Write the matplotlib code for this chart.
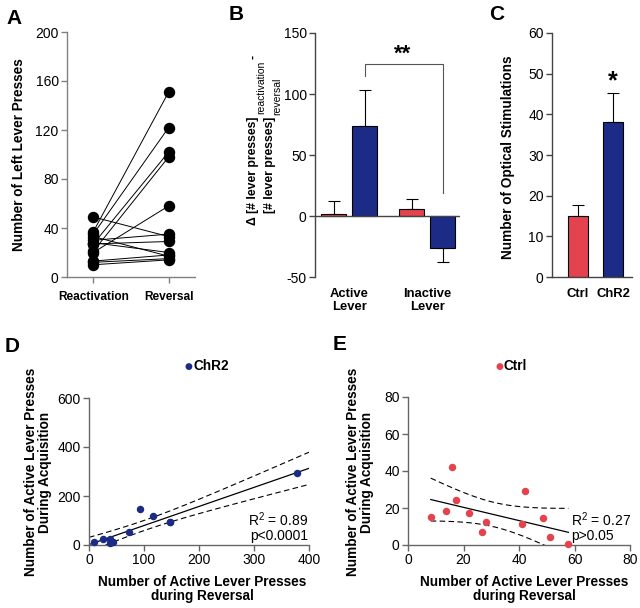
import numpy as np
import matplotlib
matplotlib.use("Agg")
import matplotlib.pyplot as plt

plt.rcParams['font.family'] = ['Liberation Sans', 'DejaVu Sans']
plt.rcParams['mathtext.fontset'] = 'custom'
plt.rcParams['mathtext.rm'] = 'Liberation Sans'
plt.rcParams['mathtext.bf'] = 'Liberation Sans:bold'
plt.rcParams['mathtext.it'] = 'Liberation Sans:italic'
plt.rcParams['axes.unicode_minus'] = False

RED = '#E5424F'
BLUE = '#1C2B85'
SPINE = '#666666'

# ---------------- Data ----------------
# Panel A: paired values
a_categories = ['Reactivation', 'Reversal']
a_reactivation = [49, 37, 35, 27, 21, 20, 30, 27, 28, 33, 13, 12, 10]
a_reversal = [33, 151, 122, 102, 98, 58, 35, 29, 20, 17, 18, 15, 14]

# Panel B: delta bars
b_groups = ['Active\nLever', 'Inactive\nLever']
b_ctrl = [2, 6]
b_ctrl_err = [10, 8]
b_chr2 = [74, -26]
b_chr2_err = [29, 12]

# Panel C
c_groups = ['Ctrl', 'ChR2']
c_values = [15, 38]
c_err = [2.8, 7.2]

# Panel D: ChR2 scatter
d_x = [8.5, 25, 39, 38, 44, 72, 93, 116, 147, 148, 378]
d_y = [13, 25, 25, 10, 11, 52, 147, 117, 94, 92, 295]

# Panel E: Ctrl scatter
e_x = [8.2, 13.8, 15.9, 17.2, 21.9, 28.0, 26.6, 41.2, 42.2, 48.6, 51.1, 57.8]
e_y = [15.3, 18.3, 42.3, 24.3, 17.4, 12.2, 7.2, 11.3, 29.3, 14.4, 4.5, 0.4]

W, H = 640, 608
fig = plt.figure(figsize=(W / 100, H / 100), dpi=100)
renderer = fig.canvas.get_renderer()


def add_ax(left, top, right, bottom):
    return fig.add_axes([left / W, 1 - bottom / H, (right - left) / W, (bottom - top) / H])


TICK_FS = 10
LAB_FS = 9.8


def style(ax, color=SPINE):
    for s in ['top', 'right']:
        ax.spines[s].set_visible(False)
    for s in ['left', 'bottom']:
        ax.spines[s].set_color(color)
        ax.spines[s].set_linewidth(1.0)
    ax.tick_params(direction='out', length=4, width=1.0, color=color, labelsize=TICK_FS, pad=2)


def ftext(x, y, s, **kw):
    return fig.text(x / W, 1 - y / H, s, **kw)


# ---------------- Panel A ----------------
axA = add_ax(67, 32, 195, 277)
style(axA, '#808080')
for r, v in zip(a_reactivation, a_reversal):
    axA.plot([0, 1], [r, v], color='black', lw=0.7, zorder=2)
axA.scatter(np.zeros(len(a_reactivation)), a_reactivation, s=52, color='black', zorder=3, clip_on=False)
axA.scatter(np.ones(len(a_reversal)), a_reversal, s=52, color='black', zorder=3, clip_on=False)
axA.set_xlim(-0.35, 1.35)
axA.set_ylim(0, 200)
axA.set_yticks([0, 40, 80, 120, 160, 200])
axA.set_xticks([0, 1])
axA.set_xticklabels(a_categories, fontweight='bold', fontsize=8.6)
axA.tick_params(axis='x', pad=6)
ftext(19, 155, 'Number of Left Lever Presses', rotation=90, ha='center', va='center',
      fontsize=LAB_FS, fontweight='bold')

# ---------------- Panel B ----------------
axB = add_ax(315, 33, 460, 277)
style(axB, '#444444')
xb = np.arange(len(b_groups))
off, wid = 0.2, 0.32
axB.bar(xb - off, b_ctrl, wid, color=RED, edgecolor='black', linewidth=0.8, zorder=2)
axB.bar(xb + off, b_chr2, wid, color=BLUE, edgecolor='black', linewidth=0.8, zorder=2)
for i in range(len(b_groups)):
    for x, v, e in [(xb[i] - off, b_ctrl[i], b_ctrl_err[i]), (xb[i] + off, b_chr2[i], b_chr2_err[i])]:
        yerr = [[0], [e]] if v >= 0 else [[e], [0]]
        axB.errorbar([x], [v], yerr=yerr, fmt='none', ecolor='black', elinewidth=0.8,
                     capsize=4.5, capthick=0.8, zorder=1)
axB.spines['bottom'].set_visible(False)
axB.axhline(0, color='#444444', lw=1.0, zorder=3)
axB.set_xlim(-0.44, 1.42)
axB.set_ylim(-50, 150)
axB.set_yticks([-50, 0, 50, 100, 150])
axB.set_xticks(xb)
axB.set_xticklabels(b_groups, fontweight='bold', fontsize=9.4, linespacing=1.1)
axB.tick_params(axis='x', length=0, pad=8)
# significance bracket
axB.plot([0.2, 0.2, 1.2, 1.2], [115, 125, 125, 19], color='#555555', lw=0.8, clip_on=False)
axB.text(0.69, 133, '**', ha='center', va='center', fontsize=16, fontweight='bold')


# y label built from pieces (bold main text, regular subscripts), chained bottom-to-top
def chain_vertical(x_main, x_sub, y_start, pieces):
    y_disp = H - y_start
    for s, bold, sub in pieces:
        t = fig.text((x_sub if sub else x_main) / W, y_disp / H, s, rotation=90,
                     ha='center', va='bottom', fontsize=(7.5 if sub else 8.8),
                     fontweight=('bold' if bold else 'normal'))
        bb = t.get_window_extent(renderer)
        y_disp = bb.y1 + 2


chain_vertical(253, 261, 225, [('\u0394 [# lever presses]', True, False),
                               ('reactivation', False, True),
                               ('-', True, False)])
chain_vertical(270, 277, 213, [('[# lever presses]', True, False),
                               ('reversal', False, True)])

# ---------------- Panel C ----------------
axC = add_ax(552, 33, 632, 277)
style(axC, '#444444')
xc = np.arange(len(c_groups))
axC.bar(xc, c_values, 0.57, color=[RED, BLUE], edgecolor='black', linewidth=0.8, zorder=2)
axC.errorbar(xc, c_values, yerr=[[0, 0], c_err], fmt='none', ecolor='black', elinewidth=0.8,
             capsize=4.5, capthick=0.8, zorder=1)
axC.set_xlim(-0.74, 1.54)
axC.set_ylim(0, 60)
axC.set_yticks([0, 10, 20, 30, 40, 50, 60])
axC.set_xticks(xc)
axC.set_xticklabels(c_groups, fontweight='bold', fontsize=9.4)
axC.tick_params(axis='x', length=0, pad=8)
axC.text(1, 48, '*', ha='center', va='center', fontsize=18, fontweight='bold')
ftext(508, 157, 'Number of Optical Stimulations', rotation=90, ha='center', va='center',
      fontsize=LAB_FS, fontweight='bold')

# ---------------- Scatter helper ----------------
T_CRIT = {9: 2.262, 10: 2.228}


def fit_plot(ax, x, y, xr):
    x = np.asarray(x, float)
    y = np.asarray(y, float)
    n = len(x)
    b, a = np.polyfit(x, y, 1)
    res = y - (a + b * x)
    s = np.sqrt(np.sum(res ** 2) / (n - 2))
    xm = x.mean()
    sxx = np.sum((x - xm) ** 2)
    xs = np.linspace(xr[0], xr[1], 200)
    ys = a + b * xs
    se = s * np.sqrt(1 / n + (xs - xm) ** 2 / sxx)
    t = T_CRIT[n - 2]
    ax.plot(xs, ys, color='black', lw=0.9, zorder=2)
    ax.plot(xs, ys + t * se, color='black', lw=0.8, ls=(0, (5, 3)), zorder=2)
    ax.plot(xs, ys - t * se, color='black', lw=0.8, ls=(0, (5, 3)), zorder=2)


YLAB = 'Number of Active Lever Presses\nDuring Acquisition'
XLAB = 'Number of Active Lever Presses\nduring Reversal'

# ---------------- Panel D ----------------
axD = add_ax(89, 398, 309, 545)
style(axD)
fit_plot(axD, d_x, d_y, (0, 400))
axD.scatter(d_x, d_y, s=19, color=BLUE, zorder=3, clip_on=False)
axD.set_xlim(0, 400)
axD.set_ylim(0, 600)
axD.set_xticks([0, 100, 200, 300, 400])
axD.set_yticks([0, 200, 400, 600])
ftext(308, 527, 'R$^2$ = 0.89\np<0.0001', ha='right', va='center', fontsize=TICK_FS,
      linespacing=1.0, multialignment='right')
ftext(38, 472, YLAB, rotation=90, ha='center', va='center', fontsize=LAB_FS,
      fontweight='bold', linespacing=1.0, multialignment='center')
ftext(202, 589, XLAB, ha='center', va='center', fontsize=LAB_FS, fontweight='bold',
      linespacing=1.05, multialignment='center')
ftext(188, 366, '\u25cf', color=BLUE, ha='center', va='center', fontsize=6.5,
      family=['DejaVu Sans'])
ftext(193, 366, 'ChR2', ha='left', va='center', fontsize=LAB_FS, fontweight='bold')

# ---------------- Panel E ----------------
axE = add_ax(408, 397, 630, 545)
style(axE)
fit_plot(axE, e_x, e_y, (min(e_x), max(e_x)))
axE.scatter(e_x, e_y, s=19, color=RED, zorder=3, clip_on=False)
axE.set_xlim(0, 80)
axE.set_ylim(0, 80)
axE.set_xticks([0, 20, 40, 60, 80])
axE.set_yticks([0, 20, 40, 60, 80])
ftext(571, 527, 'R$^2$ = 0.27\np>0.05', ha='left', va='center', fontsize=TICK_FS,
      linespacing=1.0, multialignment='left')
ftext(360, 472, YLAB, rotation=90, ha='center', va='center', fontsize=LAB_FS,
      fontweight='bold', linespacing=1.0, multialignment='center')
ftext(524, 589, XLAB, ha='center', va='center', fontsize=LAB_FS, fontweight='bold',
      linespacing=1.05, multialignment='center')
ftext(499, 366, '\u25cf', color=RED, ha='center', va='center', fontsize=6.5,
      family=['DejaVu Sans'])
ftext(504, 366, 'Ctrl', ha='left', va='center', fontsize=LAB_FS, fontweight='bold')

# ---------------- Panel letters ----------------
for lab, x, y in [('A', 14, 18), ('B', 236, 14), ('C', 497, 14), ('D', 12, 347), ('E', 340, 345)]:
    ftext(x, y, lab, ha='center', va='center', fontsize=15, fontweight='bold')

fig.savefig('out.png', dpi=100)
